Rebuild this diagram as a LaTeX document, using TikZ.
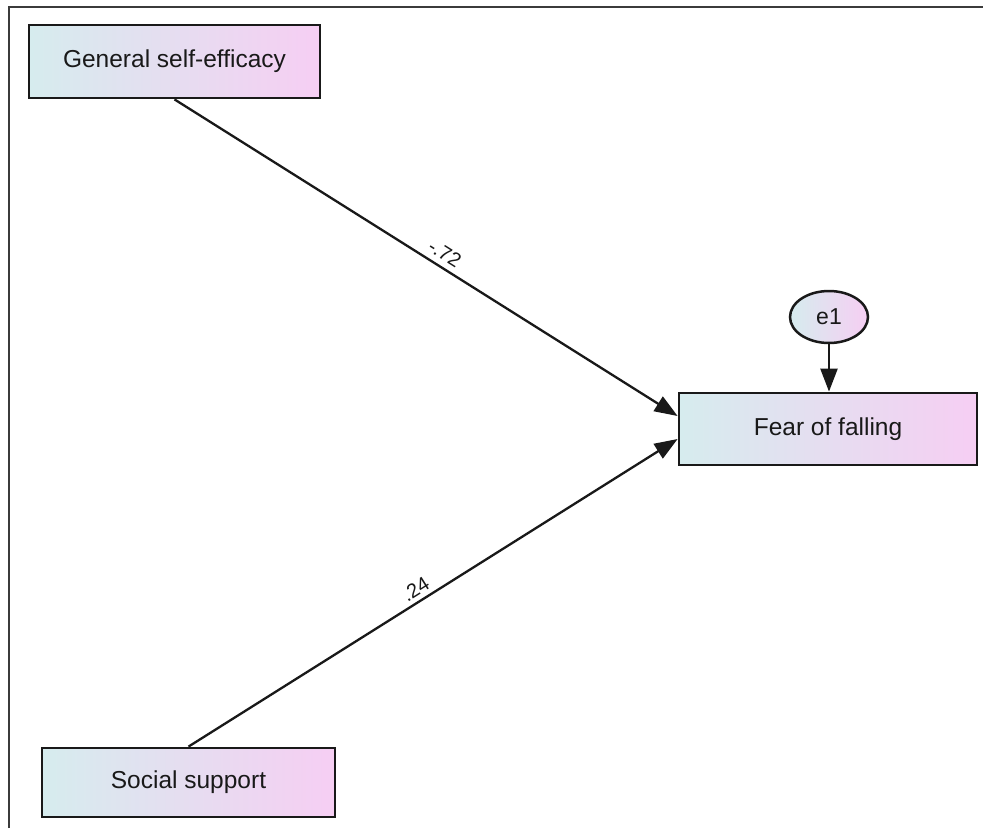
\documentclass[tikz,border=0pt]{standalone}
\usepackage{fontspec}
\setmainfont{Liberation Sans}
\usetikzlibrary{arrows.meta,shapes.geometric}
\definecolor{shadeL}{RGB}{214,236,238}
\definecolor{shadeR}{RGB}{246,206,243}
\definecolor{ink}{RGB}{25,25,25}
\tikzset{
  varbox/.style={draw=ink, line width=2.8pt, rectangle, left color=shadeL, right color=shadeR,
    font=\fontsize{24.5}{28}\selectfont, text=ink, inner sep=0pt},
  errnode/.style={draw=ink, line width=2.5pt, ellipse, left color=shadeL, right color=shadeR,
    minimum width=78pt, minimum height=52pt, inner sep=0pt, font=\fontsize{23}{26}\selectfont, text=ink},
  pathline/.style={draw=ink, line width=2.3pt, -{Triangle[length=23pt,width=17pt]}},
  coef/.style={font=\fontsize{20}{22}\selectfont, text=ink, inner sep=0pt, sloped, anchor=south}
}
\begin{document}
\begin{tikzpicture}[x=1pt,y=-1pt]
\useasboundingbox (0,0) rectangle (983,828);
\fill[white] (0,0) rectangle (983,828);
\draw[line width=2pt, ink!85] (9,828) -- (9,7) -- (983,7);
\node[varbox, minimum width=291pt, minimum height=73pt] (gse) at (174.5,61.5) {General self-efficacy};
\node[varbox, minimum width=298pt, minimum height=72pt] (fear) at (828,429) {Fear of falling};
\node[varbox, minimum width=293pt, minimum height=69pt] (soc) at (188.5,782.5) {Social support};
\node[errnode] (e1) at (829,317) {e1};
\draw[pathline] (gse.south) -- ([yshift=13pt]fear.west) node[coef, pos=0.523, above=5.5pt] {-.72};
\draw[pathline] (soc.north) -- ([yshift=-10pt]fear.west) node[coef, pos=0.478, above=4.5pt] {.24};
\draw[pathline] (e1.south) -- (fear.north -| e1.south);
\end{tikzpicture}
\end{document}
